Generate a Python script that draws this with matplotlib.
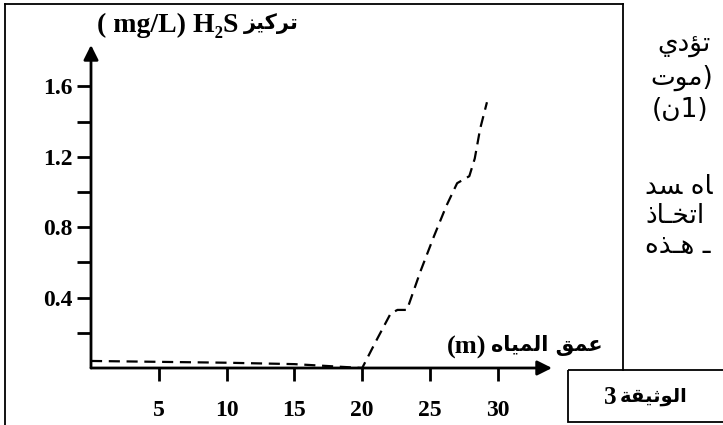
import matplotlib
matplotlib.use("Agg")
import matplotlib.pyplot as plt
from matplotlib.patches import Rectangle

# data
depth = [0, 5, 10, 15, 20, 21, 22.1, 22.6, 23.3, 24.3, 25.3, 26.2, 27.0, 27.9, 28.3, 28.7, 29.2]
h2s = [0.04, 0.035, 0.03, 0.022, 0.0, 0.15, 0.31, 0.33, 0.33, 0.55, 0.75, 0.92, 1.05, 1.09, 1.19, 1.36, 1.51]

xticks = [5, 10, 15, 20, 25, 30]
yticks = [0.4, 0.8, 1.2, 1.6]
yminor = [0.2, 0.6, 1.0, 1.4]

# arabic presentation forms: isolated, final, initial, medial
FORMS = {
    'ا': ('\uFE8D', '\uFE8E', None, None),
    'ت': ('\uFE95', '\uFE96', '\uFE97', '\uFE98'),
    'ث': ('\uFE99', '\uFE9A', '\uFE9B', '\uFE9C'),
    'خ': ('\uFEA5', '\uFEA6', '\uFEA7', '\uFEA8'),
    'د': ('\uFEA9', '\uFEAA', None, None),
    'ذ': ('\uFEAB', '\uFEAC', None, None),
    'ر': ('\uFEAD', '\uFEAE', None, None),
    'ز': ('\uFEAF', '\uFEB0', None, None),
    'س': ('\uFEB1', '\uFEB2', '\uFEB3', '\uFEB4'),
    'ع': ('\uFEC9', '\uFECA', '\uFECB', '\uFECC'),
    'ق': ('\uFED5', '\uFED6', '\uFED7', '\uFED8'),
    'ك': ('\uFED9', '\uFEDA', '\uFEDB', '\uFEDC'),
    'ل': ('\uFEDD', '\uFEDE', '\uFEDF', '\uFEE0'),
    'م': ('\uFEE1', '\uFEE2', '\uFEE3', '\uFEE4'),
    'ن': ('\uFEE5', '\uFEE6', '\uFEE7', '\uFEE8'),
    'ه': ('\uFEE9', '\uFEEA', '\uFEEB', '\uFEEC'),
    'و': ('\uFEED', '\uFEEE', None, None),
    'ي': ('\uFEF1', '\uFEF2', '\uFEF3', '\uFEF4'),
    'ة': ('\uFE93', '\uFE94', None, None),
    'ؤ': ('\uFE85', '\uFE86', None, None),
    'ـ': ('\u0640', '\u0640', '\u0640', '\u0640'),
}


def vis(text, joined_right=False):
    """Shape arabic text and return it in visual (left to right) order."""
    words = []
    for word in text.split(' '):
        out = []
        for i, ch in enumerate(word):
            if ch not in FORMS:
                out.append(ch)
                continue
            prev = word[i - 1] if i > 0 else None
            nxt = word[i + 1] if i + 1 < len(word) else None
            jp = (prev in FORMS and FORMS[prev][2] is not None) if prev else joined_right
            jn = nxt in FORMS and FORMS[ch][2] is not None
            iso, fin, ini, med = FORMS[ch]
            out.append(med if jp and jn else fin if jp else ini if jn else iso)
        words.append(''.join(reversed(out)))
    return ' '.join(reversed(words))


FAM = ['Liberation Serif', 'DejaVu Sans']
AR = ['DejaVu Sans']

fig = plt.figure(figsize=(7.23, 4.25), dpi=100)
W, H = 723, 425

# page overlay in pixel coordinates
pg = fig.add_axes([0, 0, 1, 1])
pg.set_xlim(0, W)
pg.set_ylim(H, 0)
pg.axis('off')
pg.plot([5, 5], [4, H], color='black', lw=1.3)
pg.plot([5, 623], [4, 4], color='black', lw=1.3)
pg.plot([623, 623], [4, 370], color='black', lw=1.3)
pg.add_patch(Rectangle((568, 370), 200, 52, fill=False, ec='black', lw=1.3))
pg.text(616, 397, '3', family=FAM, fontweight='bold', fontsize=18,
        ha='right', va='center')
pg.text(620, 396, vis('الوثيقة'), family=AR, fontweight='bold', fontsize=14,
        ha='left', va='center')

# cropped paragraph on the right
right_lines = [
    (657, 45, vis('تؤدي')),
    (650, 78, vis('موت') + ')'),
    (652, 110, '(' + vis('ن') + '1)'),
    (645, 187, vis('اه سد', joined_right=True)),
    (645, 216, vis('اتخـاذ')),
    (645, 246, vis('ـ هـذه')),
]
for x, y, s in right_lines:
    pg.text(x, y, s, family=AR, fontsize=19, ha='left', va='center')

# chart axes
x0, y0, x1, y1 = 91, 368, 552, 45
ax = fig.add_axes([x0 / W, (H - y0) / H, (x1 - x0) / W, (y0 - y1) / H])
ax.patch.set_alpha(0)
ax.set_xlim(0, (x1 - x0) / 13.56)
ax.set_ylim(0, (y0 - y1) / 176.0)
for s in ax.spines.values():
    s.set_visible(False)

ax.annotate('', xy=(1, 0), xytext=(0, 0), xycoords='axes fraction',
            arrowprops=dict(arrowstyle='-|>', lw=2, color='black',
                            mutation_scale=22, shrinkA=0, shrinkB=0))
ax.annotate('', xy=(0, 1), xytext=(0, 0), xycoords='axes fraction',
            arrowprops=dict(arrowstyle='-|>', lw=2, color='black',
                            mutation_scale=22, shrinkA=0, shrinkB=0))

ax.plot(depth, h2s, color='black', lw=1.6, linestyle=(0, (5, 3)), clip_on=False)

ax.set_xticks(xticks)
ax.set_xticklabels([str(v) for v in xticks], family=FAM, fontweight='bold', fontsize=17)
ax.set_yticks(yticks)
ax.set_yticklabels([f'{v:.1f}' for v in yticks], family=FAM, fontweight='bold', fontsize=17)
ax.set_yticks(yminor, minor=True)
ax.tick_params(axis='x', direction='out', length=9, width=2, pad=14)
ax.tick_params(axis='y', which='both', direction='out', length=10, width=2, pad=3)

# axis titles: latin part and arabic part
pg.text(486, 347, '(m)', family=FAM, fontweight='bold', fontsize=19, ha='right', va='center')
pg.text(491, 346, vis('عمق المياه'), family=AR, fontweight='bold', fontsize=15,
        ha='left', va='center')
pg.text(238, 25, '( mg/L) H\u2082S', family=FAM, fontweight='bold', fontsize=20,
        ha='right', va='center')
pg.text(244, 24, vis('تركيز'), family=AR, fontweight='bold', fontsize=15,
        ha='left', va='center')

fig.savefig('out.png', dpi=100)
